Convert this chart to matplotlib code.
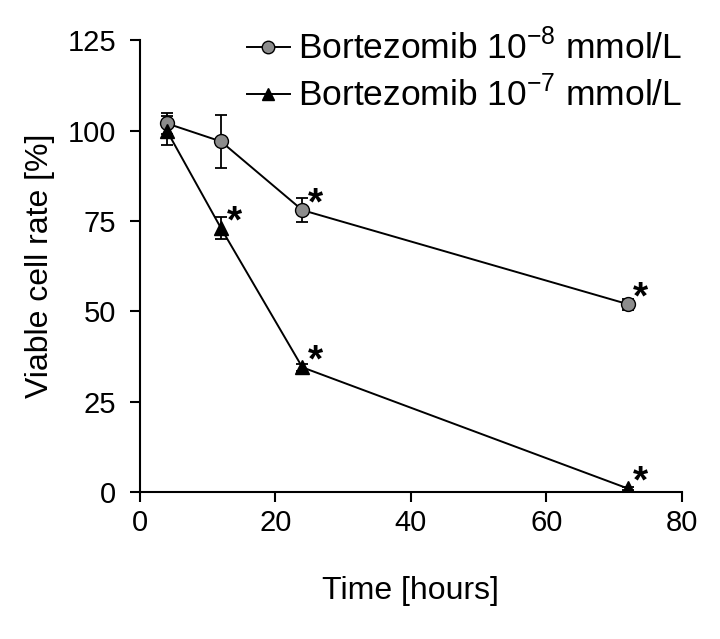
import matplotlib
matplotlib.use('Agg')
import matplotlib.pyplot as plt

plt.rcParams['font.family'] = ['Liberation Sans', 'DejaVu Sans']

## Data
time_h = [4, 12, 24, 72]

dose8_mean = [102, 97, 78, 52]
dose8_err = [3, 7.3, 3.3, 1.5]
dose8_sig = [False, False, True, True]

dose7_mean = [100, 73, 34.5, 1]
dose7_err = [4, 3, 1, 0.5]
dose7_sig = [False, True, True, True]

label8 = 'Bortezomib 10$^{\\mathregular{-8}}$ mmol/L'
label7 = 'Bortezomib 10$^{\\mathregular{-7}}$ mmol/L'

## Plotting
fig = plt.figure(figsize=(7.2, 6.39), dpi=100)
ax = fig.add_axes([0.194, 0.230, 0.753, 0.707])

# error bars (no legend entry)
ax.errorbar(time_h, dose8_mean, yerr=dose8_err, fmt='none', ecolor='black',
            capsize=4, elinewidth=1.3, capthick=1.3, zorder=2)
ax.errorbar(time_h, dose7_mean, yerr=dose7_err, fmt='none', ecolor='black',
            capsize=4, elinewidth=1.3, capthick=1.3, zorder=2)

# lines + markers
ax.plot(time_h, dose8_mean, color='black', lw=1.4, marker='o', markersize=10,
        markerfacecolor='#8c8c8c', markeredgecolor='black',
        markeredgewidth=1.0, label=label8, zorder=3)
ax.plot(time_h, dose7_mean, color='black', lw=1.4, marker='^', markersize=10,
        markerfacecolor='black', markeredgecolor='black', label=label7,
        zorder=4)

# significance stars
for x, y, s in zip(time_h, dose8_mean, dose8_sig):
    if s:
        ax.annotate('*', (x, y), xytext=(4, -9), textcoords='offset points',
                    fontsize=28, fontweight='bold', ha='left', va='bottom')
for x, y, s in zip(time_h, dose7_mean, dose7_sig):
    if s:
        ax.annotate('*', (x, y), xytext=(4, -9), textcoords='offset points',
                    fontsize=28, fontweight='bold', ha='left', va='bottom')

ax.set_xlim(0, 80)
ax.set_ylim(0, 125)
ax.set_xticks([0, 20, 40, 60, 80])
ax.set_yticks([0, 25, 50, 75, 100, 125])
ax.spines['top'].set_visible(False)
ax.spines['right'].set_visible(False)
ax.spines['left'].set_linewidth(1.5)
ax.spines['bottom'].set_linewidth(1.5)
ax.tick_params(direction='out', length=7, width=1.5, labelsize=21)
ax.tick_params(axis='y', pad=10)
ax.tick_params(axis='x', pad=5)

ax.set_xlabel('Time [hours]', fontsize=23, labelpad=28)
ax.set_ylabel('Viable cell rate [%]', fontsize=23, labelpad=9)

leg = fig.legend(loc='upper right', bbox_to_anchor=(0.968, 0.977),
                 frameon=False, fontsize=25.5, handlelength=1.2,
                 handletextpad=0.25, labelspacing=0.28, borderaxespad=0,
                 markerscale=0.9)

plt.savefig('out.png', dpi=100)
